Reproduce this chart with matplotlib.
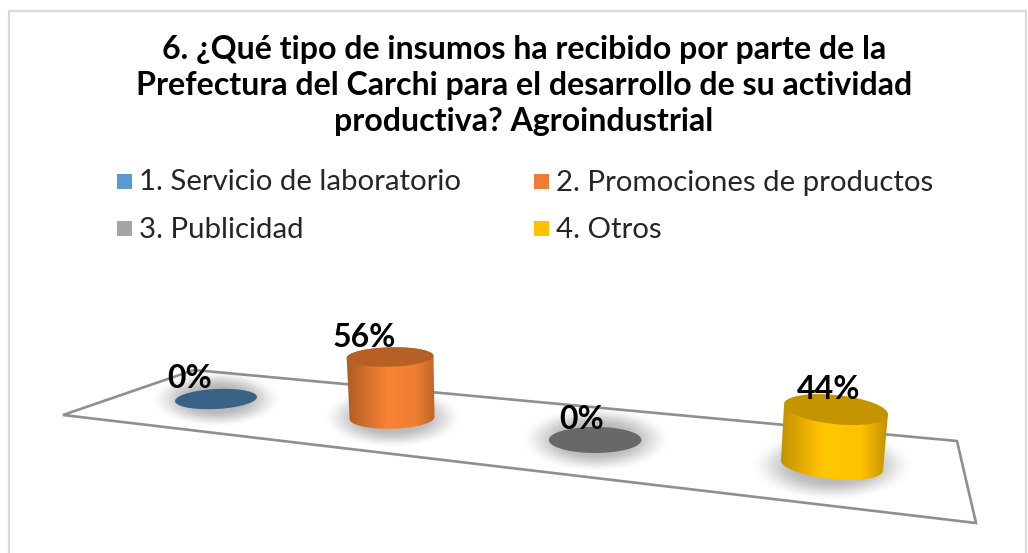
import numpy as np
import matplotlib
matplotlib.use("Agg")
import matplotlib.pyplot as plt
from matplotlib.patches import Polygon, Rectangle

# ---- data ----
categories = ["1. Servicio de laboratorio", "2. Promociones de productos", "3. Publicidad", "4. Otros"]
values = [0, 56, 0, 44]
colors = ["#5b9bd5", "#ed7d31", "#a5a5a5", "#ffc000"]
title_lines = ["6. ¿Qué tipo de insumos ha recibido por parte de la",
               "Prefectura del Carchi para el desarrollo de su actividad",
               "productiva? Agroindustrial"]

# ---- layout (pixels) ----
W, H = 1028, 553
floor = [(63, 415), (194, 370), (957, 441), (976, 523)]
label_dx = [-26, -28, -14, -3]
tilts = [-3, -1.5, 0, 6]
leans = [0, -2, 0, 4]
rx_adjust = [0, -1.5, -1, 0]
ry_adjust = [0, 0, 1.5, 1]
top_ry_adjust = [0, -1, 0, 1]
FONT = "Lato"

fig = plt.figure(figsize=(W / 100, H / 100), dpi=100)
ax = fig.add_axes([0, 0, 1, 1])


def project(i):
    """Perspective position of category i on the floor: (x, y, scale)."""
    s = 1 / (1 - 0.0665 * i)
    x = (216 + 150 * i) * s
    y = 399 + (x - 216) * 0.108
    return x, y, s


def ellipse_xy(cx, cy, rx, ry, tilt, a0=0, a1=360, n=80):
    t = np.radians(np.linspace(a0, a1, n))
    c, s = np.cos(np.radians(tilt)), np.sin(np.radians(tilt))
    px, py = rx * np.cos(t), ry * np.sin(t)
    return np.c_[cx + px * c - py * s, cy + px * s + py * c]


def rgb(h):
    return np.array(matplotlib.colors.to_rgb(h))


ax.add_patch(Rectangle((8.5, 11), 1017, 560, fc="white", ec="#d9d9d9", lw=1.6, zorder=0))
ax.add_patch(Polygon(floor, closed=True, fc="white", ec="#8f8f8f", lw=1.9, joinstyle="miter", zorder=1))

# shadows
for i, v in enumerate(values):
    cx, cy, s = project(i)
    rx, ry = 41 * s, 10 * s
    sx, sy = rx * 1.62, ry * 2.9
    xx, yy = np.meshgrid(np.linspace(cx - sx, cx + sx, 200), np.linspace(cy - sy, cy + sy, 100))
    d = np.hypot((xx - cx) / sx, (yy - cy) / sy)
    a = np.clip((1 - d) / 0.6, 0, 1)
    a = a * a * (3 - 2 * a) * 0.42
    img = np.zeros(xx.shape + (4,))
    img[..., :3] = 0.35
    img[..., 3] = a
    ax.imshow(img, extent=(cx - sx, cx + sx, cy + sy, cy - sy), aspect="auto", zorder=2, interpolation="bilinear")

# cylinders
for i, (v, col) in enumerate(zip(values, colors)):
    cx, cy, s = project(i)
    rx, ry, tilt = 41 * s + rx_adjust[i], 10 * s + ry_adjust[i], tilts[i]
    top_rx, top_ry = rx + 1, ry + top_ry_adjust[i]
    base = rgb(col)
    if v == 0:
        ax.add_patch(Polygon(ellipse_xy(cx, cy, rx, ry, tilt), closed=True, fc=base * 0.63, ec="none", zorder=3))
        top_y = cy
    else:
        h = 1.017 * s * v
        top_y = cy - h
        front = ellipse_xy(cx, cy, rx, ry, tilt, 0, 180)
        back = ellipse_xy(cx + leans[i], top_y, top_rx, top_ry, tilt, 180, 360)
        body = Polygon(np.r_[front, back], closed=True, fc="none", ec="none")
        ax.add_patch(body)
        g = np.interp(np.linspace(0, 1, 256), [0, 0.45, 0.75, 1], [0.72, 1.05, 1.0, 0.74])
        strip = np.clip(base[None, None, :] * g[None, :, None], 0, 1)
        im = ax.imshow(strip, extent=(cx - rx - 6, cx + rx + 6, cy + ry + 4, top_y - ry - 4),
                       aspect="auto", zorder=3, interpolation="bilinear")
        im.set_clip_path(body)
        ax.add_patch(Polygon(ellipse_xy(cx + leans[i], top_y, top_rx, top_ry, tilt), closed=True,
                             fc=base * 0.77, ec="none", zorder=4))
    ax.text(cx + label_dx[i], top_y - 20, f"{v}%", ha="center", va="center", family=FONT,
            fontweight="bold", fontsize=23, color="black", zorder=6)

# title
for line, y in zip(title_lines, [50, 86, 122]):
    ax.text(524, y, line, ha="center", va="center", family=FONT, fontweight="bold", fontsize=23.1, color="#000000", zorder=6)

# legend
leg_x = [117, 534]
leg_y = [181, 228]
for i, (name, col) in enumerate(zip(categories, colors)):
    lx, ly = leg_x[i % 2], leg_y[i // 2]
    ax.add_patch(Rectangle((lx, ly - 7.5), 15, 15, fc=col, ec="none", zorder=6))
    ax.text(lx + 22, ly + 1.5, name, ha="left", va="center", family=FONT, fontsize=21.2, color="#262626", zorder=6)

ax.set_xlim(0, W)
ax.set_ylim(H, 0)
ax.axis("off")
fig.savefig("out.png", dpi=100, facecolor="white")
